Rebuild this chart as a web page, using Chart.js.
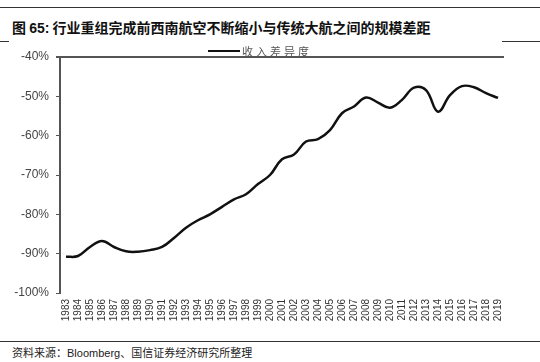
<!DOCTYPE html>
<html>
<head>
<meta charset="utf-8">
<script src="https://cdn.jsdelivr.net/npm/chart.js@4/dist/chart.umd.min.js"></script>
<style>
  body { margin: 0; background: #fff; }
  #wrap { position: relative; width: 540px; height: 362px; overflow: hidden; }
  .rule { position: absolute; height: 1px; background: #333; }
  #title { position: absolute; left: 12px; top: 17px; font: bold 14px "Noto Sans CJK SC", sans-serif; color: #111; white-space: nowrap; }
  #title .num { font-family: "Liberation Sans", Arial, sans-serif; }
  #source { position: absolute; left: 12px; top: 344px; font: 11px "Noto Sans CJK SC", sans-serif; color: #222; white-space: nowrap; }
  #source .en { font-family: "Liberation Sans", Arial, sans-serif; }
  #legend { position: absolute; left: 208px; top: 44px; height: 12px; line-height: 12px; white-space: nowrap; }
  #legend .bar { display: inline-block; width: 32px; height: 2px; background: #111; vertical-align: middle; }
  #legend .txt { display: inline-block; font: 11px/12px "Noto Sans CJK SC", sans-serif; color: #555; letter-spacing: 3px; vertical-align: middle; margin-left: 2px; }
  #chartBox { position: absolute; left: 0; top: 42px; width: 540px; height: 290px; }
</style>
</head>
<body>
<div id="wrap">
  <div class="rule" style="left:0; width:540px; top:7px;"></div>
  <div id="title">图 <span class="num">65:</span> 行业重组完成前西南航空不断缩小与传统大航之间的规模差距</div>
  <div class="rule" style="left:0; width:9px; top:41px;"></div>
  <div class="rule" style="left:502px; width:38px; top:41px;"></div>
  <div id="chartBox"><canvas id="myChart" width="540" height="290"></canvas></div>
  <div id="legend"><span class="bar"></span><span class="txt">收入差异度</span></div>
  <div class="rule" style="left:0; width:540px; top:341px;"></div>
  <div id="source">资料来源：<span class="en">Bloomberg</span>、国信证券经济研究所整理</div>
</div>
<script>
// years on the x axis
var years = [];
for (var y = 1983; y <= 2019; y++) { years.push(String(y)); }

// revenue gap (%)
var revenueGap = [
    -90.8, -90.6, -88.3, -86.8, -88.3, -89.4, -89.5, -89.1, -88.3, -86.0,
    -83.4, -81.5, -80.0, -78.1, -76.2, -74.9, -72.3, -70.0, -66.0, -64.8,
    -61.5, -60.9, -58.6, -54.3, -52.6, -50.3, -51.6, -52.9, -50.9, -47.8,
    -48.4, -53.9, -49.7, -47.4, -47.7, -49.2, -50.4
];

var yTicks = [-40, -50, -60, -70, -80, -90, -100];

var ctx = document.getElementById('myChart').getContext('2d');

new Chart(ctx, {
    type: 'line',
    data: {
        labels: years,
        datasets: [{
            label: '收入差异度',
            data: revenueGap,
            borderColor: '#111',
            borderWidth: 2.5,
            pointRadius: 0,
            tension: 0.4,
            fill: false
        }]
    },
    options: {
        responsive: false,
        animation: false,
        layout: { padding: { top: 15, right: 36, left: 0, bottom: 0 } },
        plugins: {
            legend: { display: false },
            tooltip: { enabled: false }
        },
        scales: {
            x: {
                offset: true,
                grid: { display: false, drawTicks: false },
                border: { display: false },
                ticks: {
                    autoSkip: false,
                    minRotation: 90,
                    maxRotation: 90,
                    padding: 6,
                    color: '#333',
                    font: { family: '"Liberation Sans", Arial, sans-serif', size: 10 }
                },
                afterFit: function(scale) { scale.height = 39; }
            },
            y: {
                min: -100,
                max: -40,
                afterBuildTicks: function(scale) {
                    scale.ticks = yTicks.map(function(v) { return { value: v }; });
                },
                grid: {
                    drawOnChartArea: true,
                    color: function(c) { return c.tick && c.tick.value === -40 ? '#555' : 'rgba(0,0,0,0)'; },
                    lineWidth: function(c) { return c.tick && c.tick.value === -40 ? 2 : 1; },
                    tickColor: '#555',
                    tickLength: 4
                },
                border: { color: '#555', width: 2 },
                ticks: {
                    padding: 7,
                    color: '#444',
                    font: { family: '"Liberation Sans", Arial, sans-serif', size: 12 },
                    callback: function(v) { return v + '%'; }
                },
                afterFit: function(scale) { scale.width = 60; }
            }
        }
    }
});
</script>
</body>
</html>
